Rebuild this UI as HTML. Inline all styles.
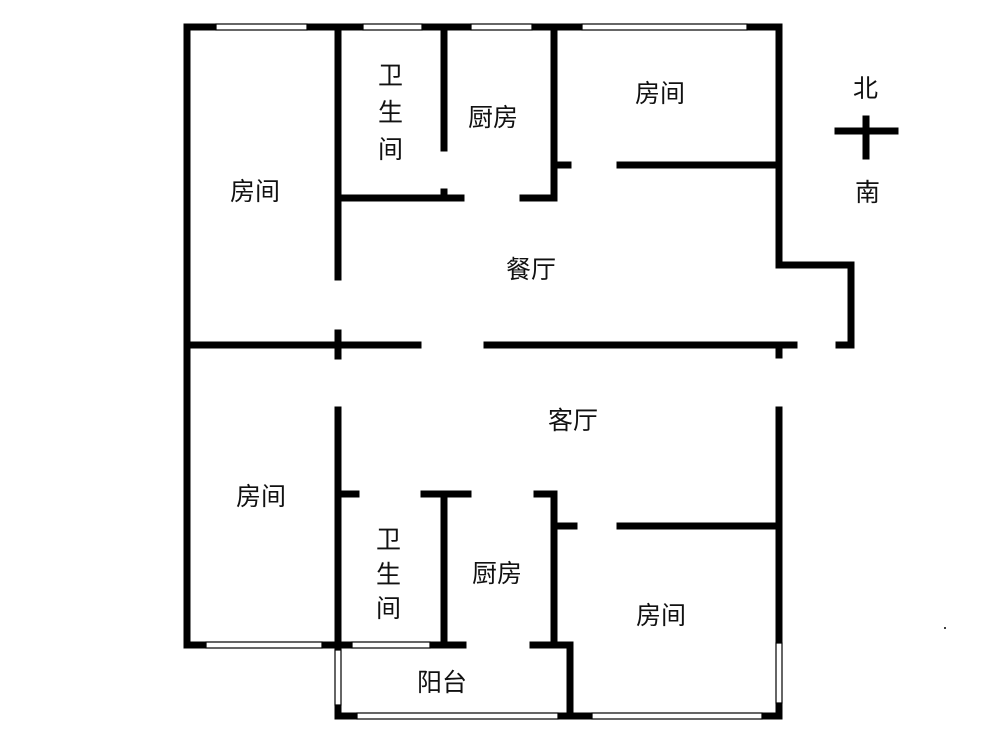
<!DOCTYPE html>
<html><head><meta charset="utf-8"><style>
html,body{margin:0;padding:0;background:#fff;}
svg{display:block}
text{font-family:"Liberation Sans","Noto Sans CJK SC",sans-serif;font-size:25px;fill:#111;}
</style></head><body>
<svg width="1000" height="731" viewBox="0 0 1000 731" xmlns="http://www.w3.org/2000/svg">
<g stroke="#000" stroke-width="7" fill="none" stroke-linecap="square">
<!-- outer top -->
<line x1="187" y1="27" x2="779" y2="27"/>
<line x1="187" y1="27" x2="187" y2="645"/>
<line x1="187" y1="645" x2="338" y2="645"/>
<!-- left vertical partition -->
<line x1="338" y1="27" x2="338" y2="277"/>
<line x1="338" y1="333" x2="338" y2="356"/>
<line x1="338" y1="410" x2="338" y2="716"/>
<!-- top bath/kitchen -->
<line x1="444" y1="27" x2="444" y2="148"/>
<line x1="444" y1="192" x2="444" y2="198"/>
<line x1="338" y1="198" x2="461" y2="198"/>
<line x1="523" y1="198" x2="554" y2="198"/>
<line x1="554" y1="27" x2="554" y2="198"/>
<line x1="554" y1="165" x2="568" y2="165"/>
<line x1="620" y1="165" x2="779" y2="165"/>
<!-- right top -->
<line x1="779" y1="27" x2="779" y2="265"/>
<line x1="779" y1="265" x2="851" y2="265"/>
<line x1="851" y1="265" x2="851" y2="345"/>
<line x1="839" y1="345" x2="851" y2="345"/>
<!-- main horizontal -->
<line x1="187" y1="345" x2="418" y2="345"/>
<line x1="487" y1="345" x2="794" y2="345"/>
<line x1="779" y1="345" x2="779" y2="355"/>
<!-- right lower -->
<line x1="779" y1="410" x2="779" y2="716"/>
<line x1="620" y1="526" x2="779" y2="526"/>
<line x1="554" y1="526" x2="574" y2="526"/>
<!-- bottom bath/kitchen -->
<line x1="338" y1="494" x2="356" y2="494"/>
<line x1="424" y1="494" x2="468" y2="494"/>
<line x1="444" y1="494" x2="444" y2="645"/>
<line x1="537" y1="494" x2="554" y2="494"/>
<line x1="554" y1="494" x2="554" y2="645"/>
<line x1="338" y1="645" x2="463" y2="645"/>
<line x1="533" y1="645" x2="570" y2="645"/>
<line x1="570" y1="645" x2="570" y2="716"/>
<line x1="338" y1="716" x2="779" y2="716"/>
<!-- compass -->
<line x1="838" y1="131" x2="895" y2="131"/>
<line x1="866" y1="119" x2="866" y2="156"/>
</g>
<!-- windows -->
<g fill="#fff" stroke="#000" stroke-width="1.2">
<rect x="216" y="24" width="91" height="6"/>
<rect x="363" y="24" width="59" height="6"/>
<rect x="471" y="24" width="61" height="6"/>
<rect x="582" y="24" width="165" height="6"/>
<rect x="206" y="642" width="116" height="6"/>
<rect x="352" y="642" width="78" height="6"/>
<rect x="335" y="650" width="6" height="55"/>
<rect x="357" y="713" width="201" height="6"/>
<rect x="592" y="713" width="170" height="6"/>
<rect x="776" y="643" width="6" height="60"/>
</g>
<text x="230" y="200">房间</text>
<text x="378" y="84">卫</text>
<text x="378" y="121">生</text>
<text x="378" y="158">间</text>
<text x="468" y="126">厨房</text>
<text x="635" y="102">房间</text>
<text x="506" y="278">餐厅</text>
<text x="548" y="429">客厅</text>
<text x="236" y="505">房间</text>
<text x="376" y="548">卫</text>
<text x="376" y="583">生</text>
<text x="376" y="617">间</text>
<text x="472" y="582">厨房</text>
<text x="636" y="624">房间</text>
<text x="417" y="691">阳台</text>
<text x="853" y="97">北</text>
<text x="855" y="201">南</text>
<circle cx="945" cy="628" r="1" fill="#000"/>
</svg>
</body></html>
